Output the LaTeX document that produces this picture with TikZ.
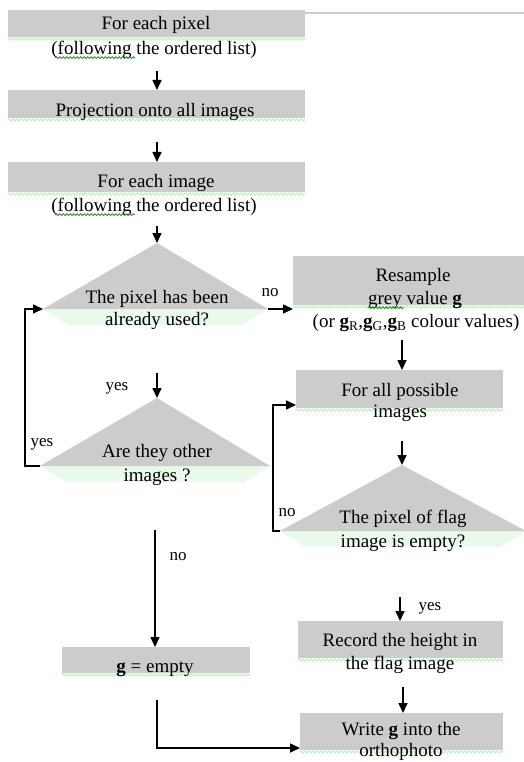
\documentclass[tikz,border=0pt]{standalone}
\usepackage{fontspec}
\setmainfont{Liberation Serif}
\usetikzlibrary{arrows.meta,decorations.pathmorphing}
\definecolor{boxgrey}{RGB}{204,204,204}
\definecolor{squig}{RGB}{196,240,196}
\definecolor{spell}{RGB}{60,140,60}
\begin{document}
\begin{tikzpicture}[x=1pt,y=-1pt,
  greybox/.style={fill=boxgrey, draw=none, inner sep=0pt, outer sep=0pt, anchor=north west},
  txt/.style={inner sep=0pt, font=\fontsize{19}{24}\selectfont, text height=13pt, text depth=4pt},
  lbl/.style={inner sep=0pt, font=\fontsize{17}{20}\selectfont, text height=11pt, text depth=4pt},
  arr/.style={line width=1.6pt, -{Triangle[length=10pt,width=9pt]}},
  squiggle/.style={draw=squig, line width=1.3pt, decorate, decoration={snake, amplitude=1pt, segment length=4pt}},
  spellmark/.style={draw=spell, line width=0.9pt, decorate, decoration={snake, amplitude=0.9pt, segment length=3.5pt}},
  band/.style={fill=squig, fill opacity=0.35}
]
\useasboundingbox (0,0) rectangle (524,762);

% ---------- grey boxes ----------
\node[greybox, minimum width=297pt, minimum height=27pt] (b1) at (8,10) {};
\node[greybox, minimum width=297pt, minimum height=28pt] (b2) at (8,90) {};
\node[greybox, minimum width=297pt, minimum height=30pt] (b3) at (8,162) {};
\node[greybox, minimum width=240pt, minimum height=49pt] (b5) at (293,256) {};
\node[greybox, minimum width=207pt, minimum height=38pt] (b6) at (296,370) {};
\node[greybox, minimum width=188pt, minimum height=26pt] (b9) at (62,647) {};
\node[greybox, minimum width=205pt, minimum height=37pt] (b10) at (298,621) {};
\node[greybox, minimum width=203pt, minimum height=37pt] (b11) at (300,713) {};

% squiggles under the boxes
\foreach \b in {b1,b2,b3,b5,b6,b9,b10,b11}
  \draw[squiggle] ([yshift=-2pt]\b.south west) -- ([yshift=-2pt]\b.south east);

% top-right frame line
\coordinate (tr) at (524,13);
\draw[draw=boxgrey, line width=1.5pt] (b1.north east |- tr) -- (tr);

% ---------- diamonds (upper halves) ----------
\coordinate (d1t) at (157,243); \coordinate (d1l) at (43,309); \coordinate (d1r) at (268,309);
\coordinate (d2t) at (402,465); \coordinate (d2l) at (280,531); \coordinate (d2r) at (526,531);
\coordinate (d3t) at (157,398); \coordinate (d3l) at (40,466);  \coordinate (d3r) at (270,466);
\fill[band] (d1l) -- (d1r) -- (242,325) -- (68,325) -- cycle;
\fill[band] (d2l) -- (d2r) -- (500,547) -- (305,547) -- cycle;
\fill[band] (d3l) -- (d3r) -- (244,482) -- (66,482) -- cycle;
\fill[boxgrey] (d1t) -- (d1r) -- (d1l) -- cycle;
\fill[boxgrey] (d2t) -- (d2r) -- (d2l) -- cycle;
\fill[boxgrey] (d3t) -- (d3r) -- (d3l) -- cycle;

% ---------- texts ----------
\node[txt] (t1a) at (156,25) {For each pixel};
\node[txt] (t1b) at (154,50) {(following the ordered list)};
\node[txt] (t2) at (155,112) {Projection onto all images};
\node[txt] (t3a) at (156,183) {For each image};
\node[txt] (t3b) at (154,207) {(following the ordered list)};
\node[txt] (t4a) at (157,299) {The pixel has been};
\node[txt] (t4b) at (157,321) {already used?};
\node[txt] (t5a) at (413,277) {Resample};
\node[txt] (t5b) at (415,300) {grey value \textbf{g}};
\node[txt] (t5c) at (416,323) {(or \textbf{g}\textsubscript{R},\textbf{g}\textsubscript{G},\textbf{g}\textsubscript{B} colour values)};
\node[txt] (t6a) at (400,392) {For all possible};
\node[txt] (t6b) at (400,413) {images};
\node[txt] (t7a) at (403,519) {The pixel of flag};
\node[txt] (t7b) at (403,543) {image is empty?};
\node[txt] (t8a) at (157,453) {Are they other};
\node[txt] (t8b) at (157,477) {images ?};
\node[txt] (t9) at (155,668) {\textbf{g} = empty};
\node[txt] (t10a) at (400,642) {Record the height in};
\node[txt] (t10b) at (400,665) {the flag image};
\node[txt] (t11a) at (401,731) {Write \textbf{g} into the};
\node[txt] (t11b) at (401,752) {orthophoto};

% spelling marks
\draw[spellmark] ([xshift=4pt,yshift=1pt]t1b.south west) -- ++(80,0);
\draw[spellmark] ([xshift=4pt,yshift=1pt]t3b.south west) -- ++(80,0);
\draw[spellmark] ([xshift=0pt,yshift=1pt]t5b.south west) -- ++(36,0);

% ---------- labels ----------
\node[lbl] (no1) at (270,293) {no};
\node[lbl] (yes1) at (117,387) {yes};
\node[lbl] (yes2) at (42,443) {yes};
\node[lbl] (no2) at (287,513) {no};
\node[lbl] (no3) at (178,557) {no};
\node[lbl] (yes3) at (430,607) {yes};

% ---------- connectors ----------
\coordinate (s1) at (157,71);
\draw[arr] (s1) -- (s1 |- b2.north);
\coordinate (s2) at (157,142);
\draw[arr] (s2) -- (s2 |- b3.north);
\coordinate (s3) at (157,226);
\draw[arr] (s3) -- (d1t);
\draw[arr] (d1r) -- (b5.south west |- d1r);
\coordinate (s4) at (402,340);
\draw[arr] (s4) -- (s4 |- b6.north);
\coordinate (s5) at (402,441);
\draw[arr] (s5) -- (d2t);
\coordinate (n2) at (273,405);
\draw[arr] (d2l) -| (n2) -- (b6.west |- n2);
\coordinate (y1) at (25,309);
\draw[arr] (d3l) -| (y1) -- (d1l);
\coordinate (s6) at (157,373);
\draw[arr] (s6) -- (d3t);
\coordinate (s7) at (155,530);
\draw[arr] (s7) -- (s7 |- b9.north);
\coordinate (s8) at (400,597);
\draw[arr] (s8) -- (s8 |- b10.north);
\coordinate (s9) at (403,687);
\draw[arr] (s9) -- (s9 |- b11.north);
\coordinate (s10) at (157,700);
\draw[arr] (s10) |- ([yshift=2pt]b11.south west);
\end{tikzpicture}
\end{document}
